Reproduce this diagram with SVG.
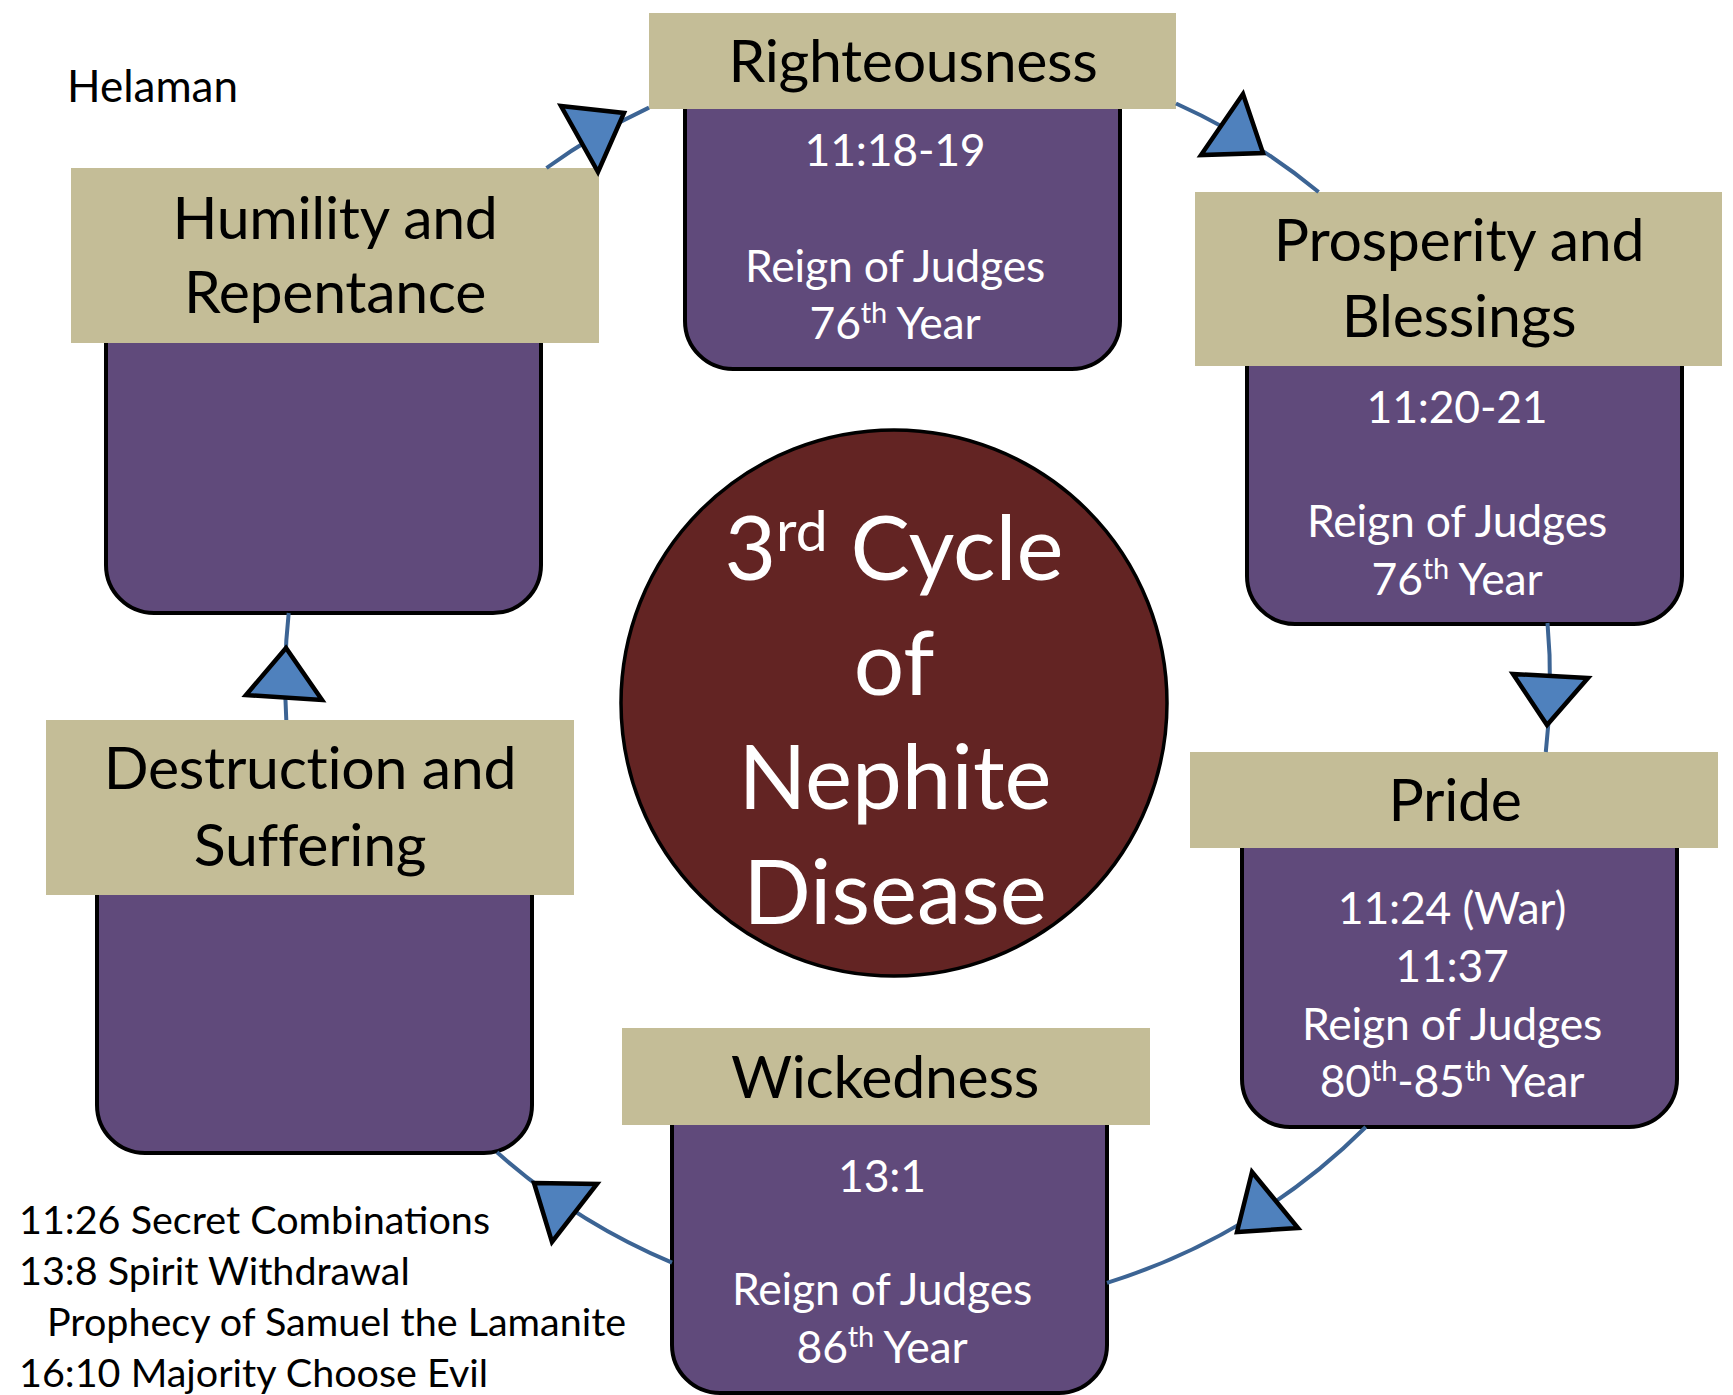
<svg xmlns="http://www.w3.org/2000/svg" width="1733" height="1395" viewBox="0 0 1733 1395">
<style>
text{font-family:Lato,"Open Sans","Liberation Sans",sans-serif}
.tan{fill:#C4BD97}
.box{fill:#604A7B;stroke:#000;stroke-width:4}
.title{font-size:59px;fill:#000;text-anchor:middle;letter-spacing:-0.3px}
.body{font-size:44.5px;fill:#fff;text-anchor:middle;letter-spacing:-0.2px}
.sup{font-size:29px}
.note{font-size:39.5px;fill:#000}
.big{font-size:89px;fill:#fff;text-anchor:middle}
.arc{fill:none;stroke:#3C6494;stroke-width:4}
.head{fill:#4F81BD;stroke:#000;stroke-width:4.5;stroke-linejoin:miter}
</style>
<rect width="1733" height="1395" fill="#fff"/>
<text x="67" y="102" style="font-size:44px;fill:#000">Helaman</text>

<g id="righteousness">
<rect class="box" x="685" y="60" width="435" height="309" rx="48"/>
<rect class="tan" x="649" y="13" width="527" height="96"/>
<text class="title" x="913" y="82">Righteousness</text>
<text class="body" x="895" y="166">11:18-19</text>
<text class="body" x="895" y="282">Reign of Judges</text>
<text class="body" x="895" y="339">76<tspan class="sup" dy="-16">th</tspan><tspan dy="16"> Year</tspan></text>
</g>

<g id="prosperity">
<rect class="box" x="1247" y="240" width="435" height="384" rx="48"/>
<rect class="tan" x="1195" y="192" width="527" height="174"/>
<text class="title" x="1459" y="261">Prosperity and</text>
<text class="title" x="1459" y="337">Blessings</text>
<text class="body" x="1457" y="423">11:20-21</text>
<text class="body" x="1457" y="537">Reign of Judges</text>
<text class="body" x="1457" y="595">76<tspan class="sup" dy="-16">th</tspan><tspan dy="16"> Year</tspan></text>
</g>

<g id="pride">
<rect class="box" x="1242" y="800" width="435" height="327" rx="48"/>
<rect class="tan" x="1190" y="752" width="528" height="96"/>
<text class="title" x="1455" y="821">Pride</text>
<text class="body" x="1452" y="924">11:24 (War)</text>
<text class="body" x="1452" y="982">11:37</text>
<text class="body" x="1452" y="1040">Reign of Judges</text>
<text class="body" x="1452" y="1097">80<tspan class="sup" dy="-16">th</tspan><tspan dy="16">-85</tspan><tspan class="sup" dy="-16">th</tspan><tspan dy="16"> Year</tspan></text>
</g>

<g id="wickedness">
<rect class="box" x="672" y="1070" width="435" height="323" rx="48"/>
<rect class="tan" x="622" y="1028" width="528" height="97"/>
<text class="title" x="885" y="1098">Wickedness</text>
<text class="body" x="882" y="1192">13:1</text>
<text class="body" x="882" y="1305">Reign of Judges</text>
<text class="body" x="882" y="1363">86<tspan class="sup" dy="-16">th</tspan><tspan dy="16"> Year</tspan></text>
</g>

<g id="destruction">
<rect class="box" x="97" y="770" width="435" height="383" rx="48"/>
<rect class="tan" x="46" y="720" width="528" height="175"/>
<text class="title" x="310" y="789">Destruction and</text>
<text class="title" x="310" y="866">Suffering</text>
</g>

<g id="humility">
<rect class="box" x="106" y="220" width="435" height="393" rx="48"/>
<rect class="tan" x="71" y="168" width="528" height="175"/>
<text class="title" x="335" y="239">Humility and</text>
<text class="title" x="335" y="313">Repentance</text>
</g>

<g id="center">
<circle cx="894" cy="703" r="273" fill="#632423" stroke="#000" stroke-width="3.5"/>
<text class="big" x="894" y="580">3<tspan font-size="57px" dy="-29">rd</tspan><tspan dy="29"> Cycle</tspan></text>
<text class="big" x="894" y="695">of</text>
<text class="big" x="895" y="809">Nephite</text>
<text class="big" x="895" y="924">Disease</text>
</g>

<g id="notes">
<text class="note" x="19" y="1234">11:26 Secret Combinations</text>
<text class="note" x="19" y="1285">13:8 Spirit Withdrawal</text>
<text class="note" x="47" y="1336">Prophecy of Samuel the Lamanite</text>
<text class="note" x="19" y="1387">16:10 Majority Choose Evil</text>
</g>

<g id="connectors">
<path class="arc" d="M546.5 168 A632 632 0 0 1 649 107.6"/>
<path class="arc" d="M1176 103.5 A632 632 0 0 1 1318.6 192"/>
<path class="arc" d="M1547.5 623 A632 632 0 0 1 1545.8 752"/>
<path class="arc" d="M1365.8 1127 A632 632 0 0 1 1107 1282.8"/>
<path class="arc" d="M672 1262.6 A632 632 0 0 1 497 1152.3"/>
<path class="arc" d="M286.3 720 A632 632 0 0 1 288.7 613"/>
<polygon class="head" points="561,106 624,113 598,172"/>
<polygon class="head" points="1243,94 1201,155 1263,153"/>
<polygon class="head" points="1513,674 1588,678 1547,725"/>
<polygon class="head" points="1252,1172 1237,1232 1298,1228"/>
<polygon class="head" points="534,1183 597,1184 552,1242"/>
<polygon class="head" points="286,648 246,695 322,700"/>
</g>
</svg>
